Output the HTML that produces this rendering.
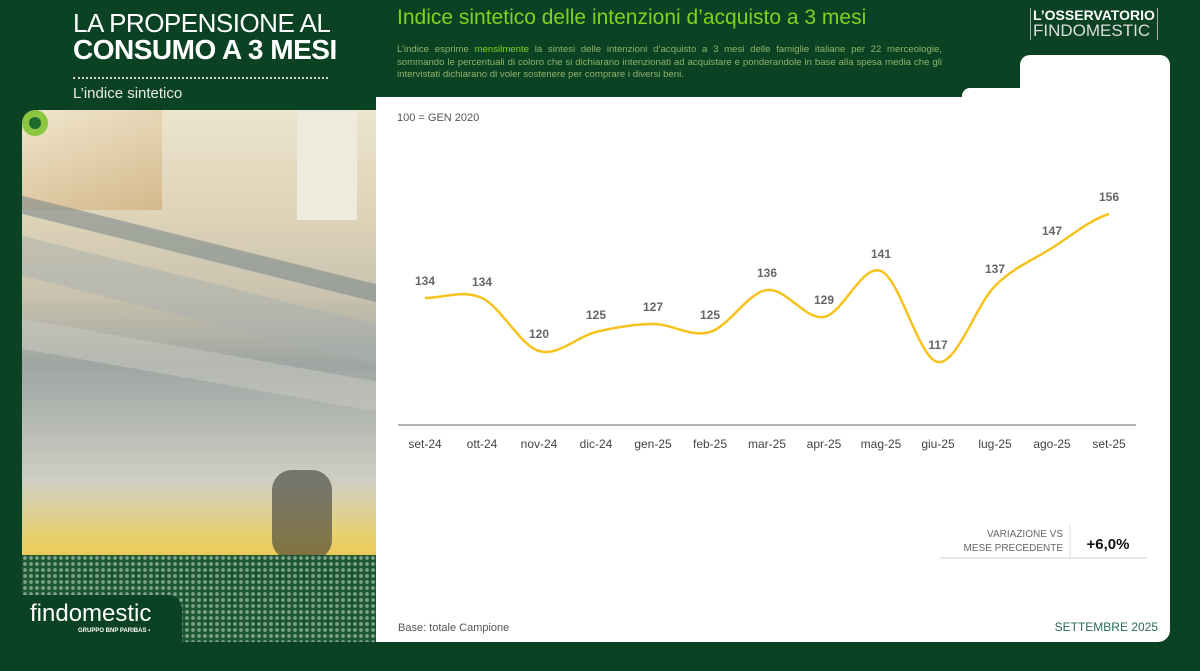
<!DOCTYPE html>
<html><head><meta charset="utf-8"><style>
*{margin:0;padding:0;box-sizing:border-box}
body{width:1200px;height:671px;background:#0a4223;position:relative;overflow:hidden;font-family:"Liberation Sans",sans-serif}
.abs{position:absolute}
</style></head><body>
<div class="abs" style="left:0;top:0;width:1200px;height:671px;background:#0b4224"></div>
<!-- photo -->
<div class="abs" style="left:22px;top:110px;width:354px;height:532px;border-radius:18px 0 0 0;overflow:hidden;background:linear-gradient(180deg,#ece4cc 0%,#ddd3b8 20%,#c9c2ae 35%,#9fa5a3 48%,#b9bcb6 60%,#cfcfc3 70%,#e8d070 80%,#eec238 88%,#d8b23a 100%)">
  <div class="abs" style="left:0;top:0;width:140px;height:100px;background:linear-gradient(160deg,#f0e6cc,#d4b88c)"></div>
  <div class="abs" style="left:275px;top:0;width:60px;height:110px;background:#eeeadd"></div>
  <div class="abs" style="left:0;top:130px;width:354px;height:18px;background:#7d8a8c;transform:skewY(14deg);opacity:.6"></div>
  <div class="abs" style="left:0;top:170px;width:354px;height:40px;background:#aab0ad;transform:skewY(14deg);opacity:.5"></div>
  <div class="abs" style="left:0;top:240px;width:354px;height:30px;background:#c4c6bd;transform:skewY(10deg);opacity:.6"></div>
  <div class="abs" style="left:250px;top:360px;width:60px;height:90px;background:#3a3b34;opacity:.6;border-radius:20px"></div>
  <div class="abs" style="left:0;top:445px;width:354px;height:87px;background:radial-gradient(circle,#7fa08a 1.6px,transparent 2.2px) 0 0/6px 6px,#1d5632"></div>
</div>
<div class="abs" style="left:22px;top:595px;width:160px;height:47px;background:#0b4224;border-radius:0 14px 0 0"></div>
<div class="abs" style="left:30px;top:600px;color:#fff;font-size:24px;">findomestic</div>
<div class="abs" style="left:78px;top:628px;color:#fff;font-size:6px;font-weight:bold">GRUPPO BNP PARIBAS ▪</div>
<div class="abs" style="left:22px;top:110px;width:26px;height:26px;border-radius:50%;background:#8cc63f"></div>
<div class="abs" style="left:29px;top:117px;width:12px;height:12px;border-radius:50%;background:#1d6b2e"></div>
<!-- titles -->
<div class="abs" style="left:73px;top:8px;color:#fff;font-size:26px;letter-spacing:-0.5px">LA PROPENSIONE AL</div>
<div class="abs" style="left:73px;top:34px;color:#fff;font-size:28px;font-weight:bold;letter-spacing:-0.5px">CONSUMO A 3 MESI</div>
<div class="abs" style="left:73px;top:77px;width:255px;border-top:2px dotted #cfd6cf"></div>
<div class="abs" style="left:73px;top:85px;color:#e6ece6;font-size:15px">L’indice sintetico</div>
<div class="abs" style="left:397px;top:6px;color:#7ed321;font-size:21px">Indice sintetico delle intenzioni d’acquisto a 3 mesi</div>
<div class="abs" style="left:397px;top:44px;color:#8fb36a;font-size:9.6px;line-height:12.5px;width:545px;text-align:justify">L’indice esprime <span style="color:#7ed321">mensilmente</span> la sintesi delle intenzioni d’acquisto a 3 mesi delle famiglie italiane per 22 merceologie, sommando le percentuali di coloro che si dichiarano intenzionati ad acquistare e ponderandole in base alla spesa media che gli intervistati dichiarano di voler sostenere per comprare i diversi beni.</div>
<div class="abs" style="left:1030px;top:8px;height:32px;border-left:1px solid #aaa;border-right:1px solid #aaa;padding:0 2px;color:#fff;font-size:14px;line-height:15px;font-weight:bold">L’OSSERVATORIO<br><span style="font-weight:normal;font-size:17px;color:#ddd">FINDOMESTIC</span></div>
<!-- white panel -->
<div class="abs" style="left:376px;top:97px;width:794px;height:545px;background:#fff;border-radius:0 0 12px 0"></div>
<div class="abs" style="left:1020px;top:55px;width:150px;height:60px;background:#fff;border-radius:10px 10px 0 0"></div>
<div class="abs" style="left:962px;top:88px;width:62px;height:12px;background:#fff;border-radius:8px 0 0 0"></div>
<div class="abs" style="left:397px;top:112px;color:#555;font-size:11px">100 = GEN 2020</div>
<svg class="abs" style="left:0;top:0" width="1200" height="671">
<line x1="398" y1="425" x2="1136" y2="425" stroke="#999" stroke-width="1.5"/>
<path d="M425,298 C444,298 463,289.2 482,298 C501,306.8 520,345.3 539,351 C558,356.7 577,336.5 596,332 C615,327.5 634,324 653,324 C672,324 691,337.7 710,332 C729,326.3 748,292.5 767,290 C786,287.5 805,320.2 824,317 C843,313.8 862,263.5 881,271 C900,278.5 919,359.5 938,362 C957,364.5 976,305 995,286 C1014,267 1033,260 1052,248 C1071,236 1090,219.7 1109,214" fill="none" stroke="#f7c21b" stroke-width="2.5"/>
<g font-family="Liberation Sans" font-size="12" font-weight="bold" fill="#666" text-anchor="middle">
<text x="425" y="285">134</text><text x="482" y="286">134</text><text x="539" y="338">120</text><text x="596" y="319">125</text><text x="653" y="311">127</text><text x="710" y="319">125</text><text x="767" y="277">136</text><text x="824" y="304">129</text><text x="881" y="258">141</text><text x="938" y="349">117</text><text x="995" y="273">137</text><text x="1052" y="235">147</text><text x="1109" y="201">156</text>
</g>
<g font-family="Liberation Sans" font-size="12" fill="#444" text-anchor="middle">
<text x="425" y="448">set-24</text><text x="482" y="448">ott-24</text><text x="539" y="448">nov-24</text><text x="596" y="448">dic-24</text><text x="653" y="448">gen-25</text><text x="710" y="448">feb-25</text><text x="767" y="448">mar-25</text><text x="824" y="448">apr-25</text><text x="881" y="448">mag-25</text><text x="938" y="448">giu-25</text><text x="995" y="448">lug-25</text><text x="1052" y="448">ago-25</text><text x="1109" y="448">set-25</text>
</g>
<line x1="940" y1="558" x2="1147" y2="558" stroke="#ddd" stroke-width="1.5"/>
<line x1="1070" y1="524" x2="1070" y2="558" stroke="#ddd" stroke-width="1"/>
<text x="1063" y="537" font-family="Liberation Sans" font-size="10" fill="#666" text-anchor="end">VARIAZIONE VS</text>
<text x="1063" y="551" font-family="Liberation Sans" font-size="10" fill="#666" text-anchor="end">MESE PRECEDENTE</text>
<text x="1108" y="549" font-family="Liberation Sans" font-size="15" font-weight="bold" fill="#111" text-anchor="middle">+6,0%</text>
<text x="398" y="631" font-family="Liberation Sans" font-size="11" fill="#555">Base: totale Campione</text>
<text x="1158" y="631" font-family="Liberation Sans" font-size="12" fill="#2a6b55" text-anchor="end">SETTEMBRE 2025</text>
</svg>
</body></html>
